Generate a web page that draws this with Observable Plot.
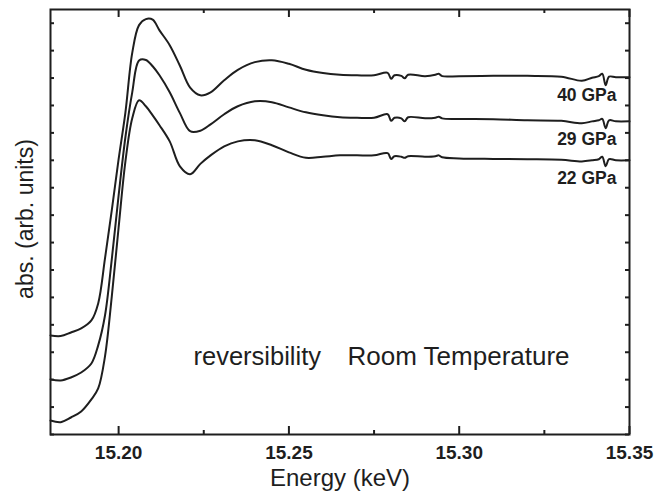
<!DOCTYPE html>
<html><head><meta charset="utf-8">
<script src="https://cdn.jsdelivr.net/npm/d3@7"></script>
<script src="https://cdn.jsdelivr.net/npm/@observablehq/plot@0.6"></script>
<style>body{margin:0;background:#fff}</style>
</head><body><div id="chart"></div>
<script>
// Energy (keV) sample positions, shared by the three spectra
const energy = [15.180,15.183,15.186,15.189,15.192,15.194,15.196,15.198,15.200,15.202,
  15.204,15.206,15.208,15.210,15.212,15.215,15.218,15.221,15.224,15.227,
  15.231,15.235,15.240,15.245,15.250,15.255,15.260,15.265,15.270,15.275,
  15.279,15.280,15.281,15.283,15.284,15.285,15.290,15.293,15.294,15.295,
  15.300,15.310,15.320,15.330,15.336,15.339,15.341,15.342,15.343,15.344,15.346,15.350];
// absorption (arb. units, offset spectra)
const gpa40 = [3.61,3.59,3.72,3.87,4.16,4.78,6.42,8.18,10.04,11.75,
  13.92,14.93,15.15,15.13,14.74,14.20,13.45,12.65,12.37,12.48,
  12.92,13.30,13.58,13.65,13.52,13.30,13.18,13.12,13.10,13.10,
  13.19,12.97,13.10,13.08,12.99,13.12,13.07,13.12,13.16,13.07,
  13.07,13.08,13.08,13.05,12.90,13.01,13.07,13.16,12.74,13.05,13.03,13.03];
const gpa29 = [2.01,1.97,2.08,2.26,2.59,3.25,4.34,6.40,8.72,10.85,
  12.48,13.64,13.66,13.43,13.10,12.48,11.72,11.06,11.08,11.31,
  11.68,11.97,12.15,12.12,11.93,11.75,11.64,11.57,11.55,11.55,
  11.68,11.44,11.55,11.53,11.42,11.57,11.53,11.55,11.59,11.53,
  11.51,11.50,11.46,11.44,11.35,11.42,11.46,11.51,11.17,11.46,11.42,11.42];
const gpa22 = [0.51,0.45,0.62,0.84,1.28,1.68,2.85,5.04,7.55,9.96,
  11.53,12.19,11.97,11.64,11.28,10.69,9.78,9.49,9.87,10.18,
  10.51,10.69,10.73,10.55,10.29,10.09,10.13,10.18,10.18,10.18,
  10.26,10.05,10.15,10.13,10.09,10.15,10.13,10.15,10.18,10.11,
  10.07,10.05,10.04,10.02,9.96,10.00,10.04,10.13,9.78,10.04,10.00,10.00];
const seriesNames = ["40 GPa","29 GPa","22 GPa"];
const xMajorTicks = [15.20,15.25,15.30,15.35];
const xMinorTicks = [15.225,15.275,15.325];
const yTicks = [0,1,2,3,4,5,6,7,8,9,10,11,12,13,14,15];
const xLabel = "Energy (keV)";
const yLabel = "abs. (arb. units)";
const note1 = "reversibility";
const note2 = "Room Temperature";

const seriesValues = [gpa40, gpa29, gpa22];
const rows = seriesValues.flatMap((vals, i) =>
  vals.map((v, j) => ({series: seriesNames[i], energy: energy[j], value: v})));
const endRows = seriesValues.map((vals, i) =>
  ({series: seriesNames[i], energy: energy[energy.length - 1], value: vals[vals.length - 1]}));

const W = 667, H = 502, mL = 50, mR = 38, mT = 9, mB = 68;
const innerH = H - mT - mB, innerW = W - mL - mR;
const ink = "#1e1e1e";

const chart = Plot.plot({
  width: W, height: H,
  marginLeft: mL, marginRight: mR, marginTop: mT, marginBottom: mB,
  style: {fontFamily: "'Liberation Sans', Arial, Helvetica, sans-serif", background: "#fff", color: ink},
  x: {domain: [15.18, 15.35], axis: null},
  y: {domain: [0, 15.5], axis: null},
  marks: [
    Plot.line(rows, {x: "energy", y: "value", z: "series", stroke: ink, strokeWidth: 2, curve: "catmull-rom"}),
    Plot.tickX(xMajorTicks, {x: d => d, insetTop: innerH - 8, stroke: ink, strokeWidth: 2}),
    Plot.tickX(xMajorTicks, {x: d => d, insetBottom: innerH - 8, stroke: ink, strokeWidth: 2}),
    Plot.tickX(xMinorTicks, {x: d => d, insetTop: innerH - 4, stroke: ink, strokeWidth: 2}),
    Plot.tickX(xMinorTicks, {x: d => d, insetBottom: innerH - 4, stroke: ink, strokeWidth: 2}),
    Plot.tickY(yTicks, {y: d => d, insetRight: innerW - 4, stroke: ink, strokeWidth: 2}),
    Plot.tickY(yTicks, {y: d => d, insetLeft: innerW - 4, stroke: ink, strokeWidth: 2}),
    Plot.frame({stroke: ink, strokeWidth: 2}),
    Plot.text(xMajorTicks, {x: d => d, frameAnchor: "bottom", lineAnchor: "middle", dy: 18,
      text: d => d3.format(".2f")(d), fontSize: 19, fontWeight: "bold", fill: ink}),
    Plot.text([xLabel], {frameAnchor: "bottom", lineAnchor: "middle", dy: 44, fontSize: 24, fill: ink}),
    Plot.text([yLabel], {frameAnchor: "left", textAnchor: "middle", lineAnchor: "middle", dx: -25, dy: -3, rotate: -90, fontSize: 23, fill: ink}),
    Plot.text(endRows, {x: "energy", y: "value", text: "series", textAnchor: "end", lineAnchor: "middle", dx: -13, dy: 18,
      fontSize: 17.5, fontWeight: "bold", fill: ink}),
    Plot.text([note1], {frameAnchor: "bottom-left", textAnchor: "start", lineAnchor: "middle", dx: 143, dy: -78, fontSize: 25.5, fill: ink}),
    Plot.text([note2], {frameAnchor: "bottom-left", textAnchor: "start", lineAnchor: "middle", dx: 297, dy: -78, fontSize: 26, fill: ink})
  ]
});
document.getElementById("chart").appendChild(chart);
</script>
</body></html>
